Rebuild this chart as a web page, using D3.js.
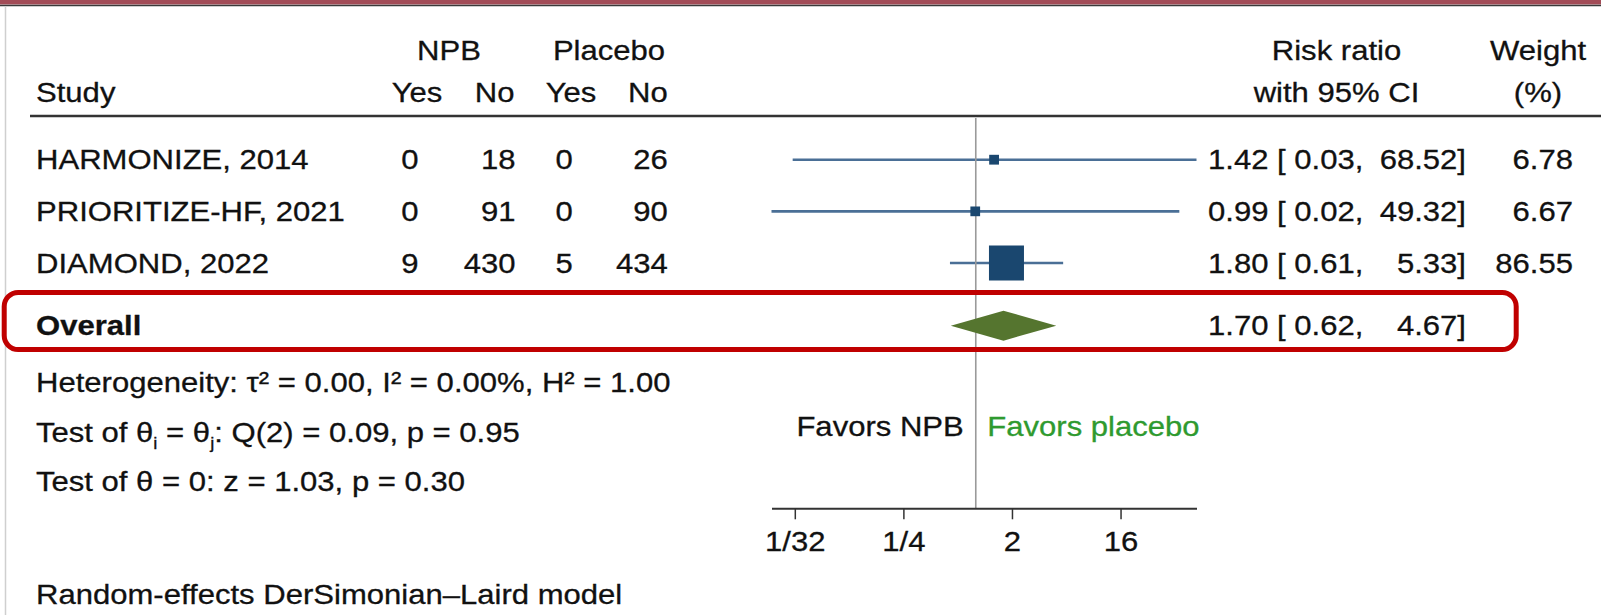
<!DOCTYPE html>
<html>
<head>
<meta charset="utf-8">
<script src="https://cdn.jsdelivr.net/npm/d3@7"></script>
<style>
  html, body { margin: 0; padding: 0; background: #fff; overflow: hidden; }
  svg { display: block; }
  text { font-family: "Liberation Sans", Arial, Helvetica, sans-serif; font-size: 28.5px; fill: #111; stroke: #111; stroke-width: 0.3px; white-space: pre; }
</style>
</head>
<body>
<script>
// ---------- data ----------
const studies   = ["HARMONIZE, 2014", "PRIORITIZE-HF, 2021", "DIAMOND, 2022"];
const npbYes    = [0, 0, 9];
const npbNo     = [18, 91, 430];
const placYes   = [0, 0, 5];
const placNo    = [26, 90, 434];
const rr        = [1.42, 0.99, 1.80];
const ciLow     = [0.03, 0.02, 0.61];
const ciHigh    = [68.52, 49.32, 5.33];
const weights   = [6.78, 6.67, 86.55];
const overallRR = [1.70, 0.62, 4.67];   // estimate, lower, upper
const tickValues = [1/32, 1/4, 2, 16];
const tickLabels = ["1/32", "1/4", "2", "16"];
const statLines = [
  "Heterogeneity: τ² = 0.00, I² = 0.00%, H² = 1.00",
  "Test of θ = 0: z = 1.03, p = 0.30"
];
const footnote = "Random-effects DerSimonian–Laird model";

// ---------- setup ----------
const W = 1601, H = 615, SX = 1.09;
const svg = d3.select("body").append("svg").attr("width", W).attr("height", H);

function T(sel, x, y, s, anchor = "start") {
  return sel.append("text")
    .attr("transform", `translate(${x},${y}) scale(${SX},1)`)
    .attr("text-anchor", anchor)
    .text(s);
}

const x = d3.scaleLog().base(2)
  .domain([d3.min(ciLow), d3.max(ciHigh)])
  .range([771.5, 1196.5]);
const rowY = d3.scaleLinear().domain([0, 2]).range([159.7, 263]);
const overallY = rowY(3) + 11;
const side = d3.scaleSqrt().domain([0, d3.max(weights)]).range([0, 35]);
const fmt = d3.format(".2f");

// ---------- frame ----------
svg.append("rect").attr("x", 0).attr("y", 0).attr("width", W).attr("height", 4.5).attr("fill", "#a24c57");
svg.append("line").attr("x1", 0).attr("x2", W).attr("y1", 5.5).attr("y2", 5.5).attr("stroke", "#3a3a3a").attr("stroke-width", 1.5);
svg.append("line").attr("x1", 5.5).attr("x2", 5.5).attr("y1", 6).attr("y2", H).attr("stroke", "#cfcfcf").attr("stroke-width", 1.5);

// ---------- header ----------
const valX = [418.6, 515.5, 572.8, 667.7];          // right edges of value columns
T(svg, 449, 60, "NPB", "middle");
T(svg, 609, 60, "Placebo", "middle");
T(svg, 36, 102, "Study");
T(svg, 417, 102, "Yes", "middle");
T(svg, 514.5, 102, "No", "end");
T(svg, 571, 102, "Yes", "middle");
T(svg, 667.7, 102, "No", "end");
T(svg, 1336.5, 60, "Risk ratio", "middle");
T(svg, 1336.5, 102, "with 95% CI", "middle");
T(svg, 1538, 60, "Weight", "middle");
T(svg, 1538, 102, "(%)", "middle");
svg.append("line").attr("x1", 30).attr("x2", W).attr("y1", 116).attr("y2", 116)
  .attr("stroke", "#333").attr("stroke-width", 2.5);

// ---------- rows ----------
const cols = [npbYes, npbNo, placYes, placNo];
studies.forEach((s, i) => {
  const y = rowY(i) + 9.5;
  T(svg, 36, y, s);
  cols.forEach((c, j) => T(svg, valX[j], y, String(c[i]), "end"));
  T(svg, 1208, y, `${fmt(rr[i])} [ ${fmt(ciLow[i])},`);
  T(svg, 1466, y, `${fmt(ciHigh[i])}]`, "end");
  T(svg, 1573, y, fmt(weights[i]), "end");
});

// CI lines
svg.append("g").selectAll("line").data(studies).join("line")
  .attr("x1", (d, i) => x(ciLow[i])).attr("x2", (d, i) => x(ciHigh[i]))
  .attr("y1", (d, i) => rowY(i)).attr("y2", (d, i) => rowY(i))
  .attr("stroke", "#4a6f96").attr("stroke-width", 2.6);

// reference line at 1
svg.append("line").attr("x1", x(1)).attr("x2", x(1)).attr("y1", 118).attr("y2", 508)
  .attr("stroke", "#9a9a9a").attr("stroke-width", 1.6);

// markers
svg.append("g").selectAll("rect").data(studies).join("rect")
  .attr("x", (d, i) => x(rr[i]) - side(weights[i]) / 2)
  .attr("y", (d, i) => rowY(i) - side(weights[i]) / 2)
  .attr("width", (d, i) => side(weights[i]))
  .attr("height", (d, i) => side(weights[i]))
  .attr("fill", "#1a476f");

// overall
const [oe, ol, oh] = overallRR;
svg.append("path")
  .attr("d", `M${x(ol)},${overallY}L${x(oe)},${overallY - 15}L${x(oh)},${overallY}L${x(oe)},${overallY + 15}Z`)
  .attr("fill", "#55752f");
const ov = T(svg, 36, overallY + 9.5, "Overall");
ov.attr("font-weight", "bold");
T(svg, 1208, overallY + 9.5, `${fmt(oe)} [ ${fmt(ol)},`);
T(svg, 1466, overallY + 9.5, `${fmt(oh)}]`, "end");

// highlight box
svg.append("rect").attr("x", 4.2).attr("y", 292.5).attr("width", 1512).attr("height", 57)
  .attr("rx", 14).attr("ry", 14)
  .attr("fill", "none").attr("stroke", "#c00000").attr("stroke-width", 5);

// ---------- stats ----------
T(svg, 36, 392, statLines[0]);
const t2 = svg.append("text").attr("transform", `translate(36,442) scale(${SX},1)`);
t2.append("tspan").text("Test of θ");
t2.append("tspan").attr("font-size", 17).attr("dy", 7).text("i");
t2.append("tspan").attr("dy", -7).text(" = θ");
t2.append("tspan").attr("font-size", 17).attr("dy", 7).text("j");
t2.append("tspan").attr("dy", -7).text(": Q(2) = 0.09, p = 0.95");
T(svg, 36, 491, statLines[1]);
T(svg, 36, 604, footnote);

// favors labels
T(svg, x(1) - 12, 436, "Favors NPB", "end");
T(svg, x(1) + 11.5, 436, "Favors placebo").style("fill", "#2f9a2f").style("stroke", "#2f9a2f");

// ---------- axis ----------
const ax = svg.append("g").attr("transform", "translate(0,508.3)")
  .call(d3.axisBottom(x).tickValues(tickValues).tickFormat((d, i) => tickLabels[i]).tickSize(11).tickSizeOuter(0));
ax.select(".domain").attr("stroke", "#333").attr("stroke-width", 2);
ax.selectAll(".tick line").attr("stroke", "#333").attr("stroke-width", 1.5);
ax.selectAll(".tick text")
  .attr("y", 0).attr("dy", 0)
  .attr("transform", `translate(0,42.4) scale(${SX},1)`)
  .attr("fill", "#111")
  .style("font-size", "28.5px")
  .style("font-family", "'Liberation Sans', Arial, Helvetica, sans-serif");
</script>
</body>
</html>
